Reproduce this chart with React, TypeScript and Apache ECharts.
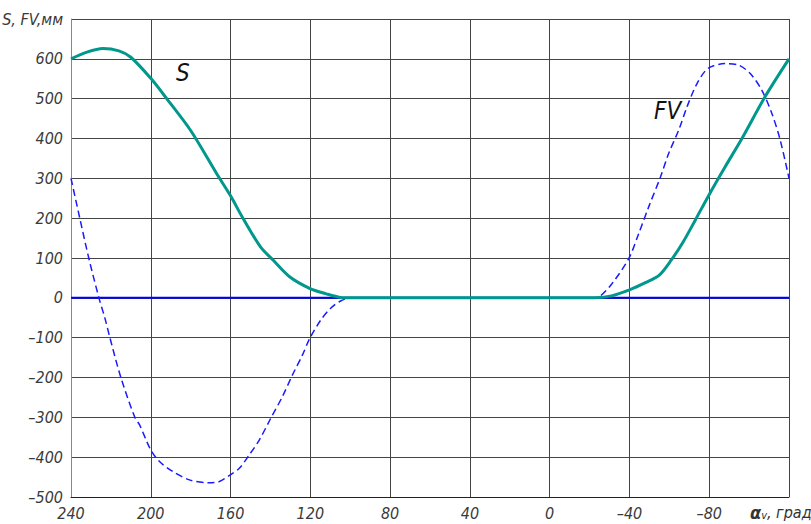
import React, { useEffect, useRef } from "react";
import * as echarts from "echarts";

const xTicks = [240, 200, 160, 120, 80, 40, 0, -40, -80, -120];
const yTicks = [-500, -400, -300, -200, -100, 0, 100, 200, 300, 400, 500, 600, 700];

const sData: [number, number][] = [
  [240, 600], [232, 617], [224, 626], [216, 620], [210, 604], [200, 551], [192, 500],
  [180, 420], [167, 312], [160, 256], [153.7, 199], [145, 128], [138.7, 95], [130.4, 53],
  [120.4, 24], [112, 10], [105, 1], [100, 0], [-22, 0], [-31, 5], [-40, 20], [-48, 38],
  [-55, 57], [-61, 95], [-67, 141], [-73, 195], [-79.4, 254], [-88, 329], [-96.4, 400],
  [-108, 505], [-120, 600],
];

const fvData: [number, number][] = [
  [240, 300], [235.6, 200], [231, 98], [226, 0], [223, -51], [220.5, -100], [215, -200],
  [208, -300], [205.6, -319], [200, -382], [195.6, -411], [189, -436], [180.6, -457],
  [171.4, -464], [165.6, -461], [160.3, -445], [155.6, -428], [150.6, -394], [145.6, -357],
  [139.8, -302], [134, -248], [129, -194], [124, -144], [120.3, -102], [114.8, -56],
  [109.8, -26], [104.8, -8], [100, 0], [-22, 0], [-25, 3], [-31.3, 36], [-39.7, 99],
  [-44.7, 162], [-49.7, 229], [-55.6, 304], [-59.7, 363], [-64.7, 421], [-68.9, 480],
  [-73.9, 538], [-79.4, 576], [-88, 588], [-94.8, 584], [-100.6, 563], [-106.4, 521],
  [-111.4, 463], [-115.6, 396], [-120, 300],
];

const zeroLine: [number, number][] = [[240, 0], [-120, 0]];

const yName = "S, FV,мм";
const FONT = "'DejaVu Sans Condensed', 'DejaVu Sans', sans-serif";

export default function App() {
  const ref = useRef<HTMLDivElement>(null);
  useEffect(() => {
    if (!ref.current) return;
    const chart = echarts.init(ref.current, null, { renderer: "svg" });
    const labelStyle = {
      fontFamily: FONT,
      fontStyle: "italic" as const,
      fontSize: 16,
      color: "#3a3a3a",
    };
    chart.setOption({
      animation: false,
      backgroundColor: "#fff",
      grid: { left: 71, right: 22, top: 19, bottom: 27, containLabel: false, outerBoundsMode: "none" },
      xAxis: {
        type: "value",
        inverse: true,
        min: -120,
        max: 240,
        interval: 40,
        axisLine: { show: true, onZero: false, lineStyle: { color: "#222", width: 1 } },
        axisTick: { show: false },
        splitLine: { show: true, lineStyle: { color: "#444", width: 1 } },
        axisLabel: {
          ...labelStyle,
          margin: 8,
          formatter: (v: number) => (v === -120 ? "" : String(v).replace("-", "–")),
        },
      },
      yAxis: {
        type: "value",
        min: -500,
        max: 700,
        interval: 100,
        axisLine: { show: true, onZero: false, lineStyle: { color: "#888", width: 1 } },
        axisTick: { show: false },
        splitLine: { show: true, lineStyle: { color: "#444", width: 1 } },
        axisLabel: {
          ...labelStyle,
          margin: 8,
          formatter: (v: number) => (v === 700 ? yName : String(v).replace("-", "–")),
        },
      },
      graphic: [
        {
          type: "text",
          left: 750,
          top: 503,
          z: 10,
          style: {
            text: "{a|α}{v|v}{b|, град}",
            rich: {
              a: { fontFamily: FONT, fontSize: 18, fontWeight: "bold", fontStyle: "italic", fill: "#333" },
              v: { fontFamily: FONT, fontSize: 11, fontStyle: "italic", fill: "#333", padding: [6, 0, 0, 0] },
              b: { fontFamily: FONT, fontSize: 16, fontStyle: "italic", fill: "#333" },
            },
          },
        },
        {
          type: "text",
          left: 176,
          top: 61,
          z: 10,
          style: { text: "S", fontFamily: FONT, fontSize: 24, fontStyle: "italic", fill: "#111" },
        },
        {
          type: "text",
          left: 654,
          top: 99,
          z: 10,
          style: { text: "FV", fontFamily: FONT, fontSize: 24, fontStyle: "italic", fill: "#111" },
        },
      ],
      series: [
        {
          type: "line",
          data: zeroLine,
          showSymbol: false,
          lineStyle: { color: "#0000ff", width: 2 },
          z: 5,
        },
        {
          type: "line",
          data: fvData,
          showSymbol: false,
          smooth: 0.3,
          lineStyle: { color: "#1a1aff", width: 1.5, type: [7, 4] },
          z: 6,
        },
        {
          type: "line",
          data: sData,
          showSymbol: false,
          smooth: 0.3,
          lineStyle: { color: "#00988c", width: 3 },
          z: 7,
        },
      ],
    });
    return () => chart.dispose();
  }, []);
  return (
    <div
      ref={ref}
      style={{ position: "fixed", left: 0, top: 0, width: 811, height: 524 }}
    />
  );
}
